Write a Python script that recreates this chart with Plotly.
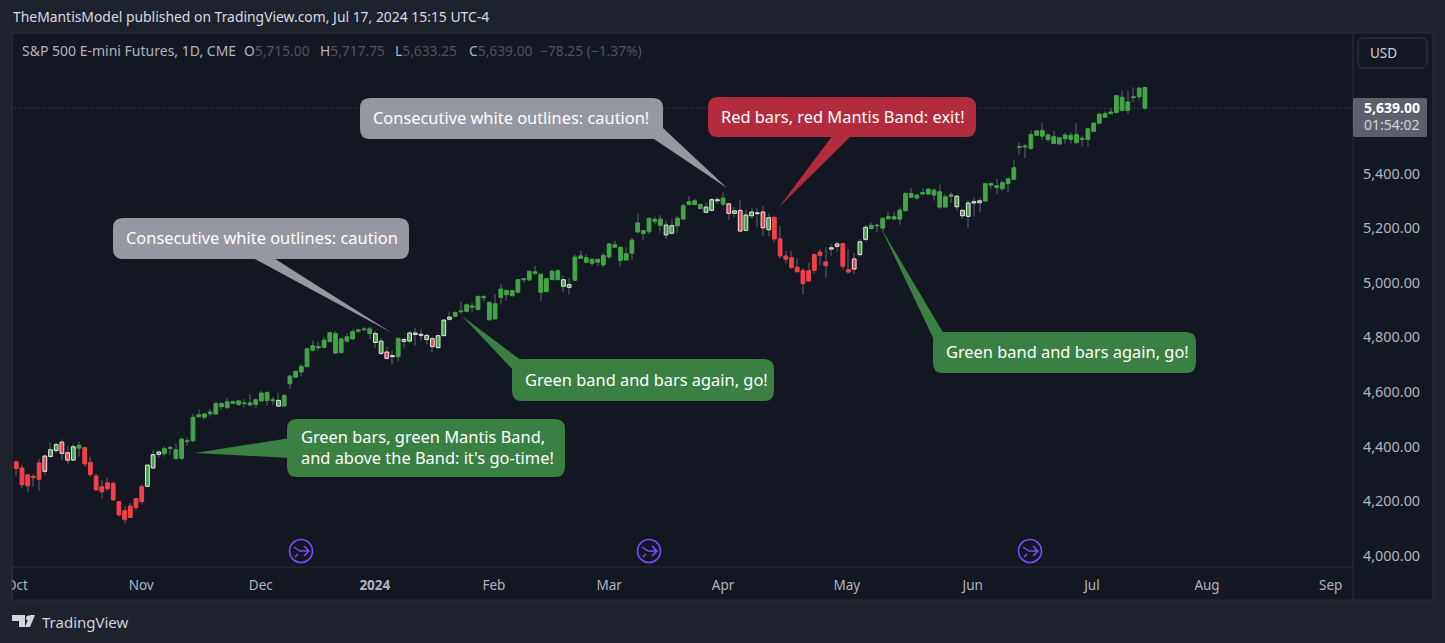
import plotly.graph_objects as go

# ---------------- data ----------------
highs = [
 4350,4332,4299,4298,4354,4370,4415,4415,4427,4403,
 4409,4418,4396,4363,4299,4277,4286,4271,4199,4183,
 4193,4211,4263,4333,4388,4385,4400,4403,4411,4433,
 4433,4521,4536,4524,4536,4565,4563,4578,4569,4568,
 4574,4592,4575,4604,4602,4582,4597,4592,4659,4678,
 4702,4761,4788,4785,4802,4817,4823,4800,4816,4831,
 4831,4839,4840,4824,4797,4766,4753,4800,4797,4824,
 4834,4830,4814,4800,4811,4865,4894,4895,4930,4924,
 4928,4952,4956,4932,4959,4995,4977,4973,5013,5015,
 5044,5062,5031,5016,5048,5048,5026,5017,5103,5117,
 5103,5087,5087,5109,5145,5154,5130,5130,5165,5254,
 5193,5239,5242,5249,5227,5233,5246,5291,5318,5307,
 5288,5294,5310,5315,5330,5293,5278,5304,5269,5274,
 5274,5281,5254,5246,5209,5117,5117,5090,5054,5073,
 5107,5123,5130,5142,5151,5145,5123,5109,5160,5211,
 5221,5215,5239,5260,5260,5276,5331,5346,5325,5346,
 5346,5346,5361,5325,5331,5321,5270,5303,5310,5313,
 5364,5368,5380,5374,5382,5449,5514,5508,5557,5557,
 5585,5547,5557,5535,5548,5551,5584,5538,5566,5587,
 5623,5628,5640,5685,5703,5703,5716,5718,5717.75]
body_tops = [
 4344,4321,4296,4291,4340,4365,4388,4407,4416,4377,
 4399,4404,4396,4342,4292,4253,4267,4265,4198,4165,
 4182,4209,4253,4332,4370,4380,4392,4397,4388,4427,
 4421,4507,4516,4519,4526,4557,4557,4564,4564,4567,
 4560,4560,4571,4596,4598,4571,4569,4587,4658,4675,
 4694,4758,4769,4766,4790,4817,4814,4794,4802,4821,
 4827,4831,4831,4814,4786,4746,4733,4796,4792,4816,
 4816,4811,4807,4795,4806,4863,4874,4891,4897,4919,
 4915,4950,4949,4927,4923,4977,4971,4971,5011,5015,
 5042,5040,5031,5015,5042,5044,5011,4993,5094,5098,
 5092,5086,5086,5100,5142,5139,5130,5106,5156,5219,
 5191,5236,5232,5233,5211,5209,5236,5282,5297,5300,
 5287,5277,5304,5304,5310,5289,5263,5265,5248,5259,
 5256,5259,5238,5239,5161,5098,5092,5057,5044,5044,
 5103,5112,5076,5128,5142,5144,5048,5087,5150,5203,
 5210,5211,5236,5242,5242,5266,5327,5327,5321,5330,
 5343,5339,5333,5315,5322,5317,5265,5292,5297,5300,
 5363,5363,5355,5366,5381,5421,5499,5501,5543,5556,
 5558,5541,5535,5531,5541,5540,5543,5529,5564,5585,
 5617,5620,5625,5685,5679,5662,5681,5712,5715]
body_bottoms = [
 4319,4260,4256,4286,4280,4309,4363,4385,4375,4350,
 4350,4394,4336,4297,4241,4234,4245,4204,4150,4132,
 4140,4176,4198,4254,4321,4371,4374,4393,4355,4357,
 4418,4421,4509,4507,4520,4519,4546,4542,4558,4554,
 4558,4552,4554,4567,4569,4568,4548,4548,4630,4654,
 4673,4692,4753,4761,4763,4784,4742,4744,4786,4794,
 4822,4828,4814,4781,4741,4723,4729,4729,4785,4786,
 4810,4807,4792,4766,4762,4806,4866,4877,4894,4895,
 4910,4902,4945,4864,4867,4946,4956,4952,4965,5011,
 5010,5034,4965,4967,5011,5011,4987,4983,5009,5089,
 5075,5071,5075,5065,5095,5130,5081,5083,5108,5186,
 5180,5187,5225,5210,5175,5181,5208,5233,5286,5286,
 5271,5258,5265,5300,5288,5254,5254,5189,5192,5245,
 5253,5201,5194,5160,5098,5086,5056,5040,4996,5006,
 5045,5100,5062,5123,5133,5060,5039,5050,5103,5159,
 5198,5208,5200,5234,5233,5233,5264,5313,5310,5325,
 5325,5321,5277,5277,5316,5278,5245,5243,5292,5293,
 5299,5357,5349,5344,5363,5379,5496,5497,5492,5540,
 5537,5524,5510,5508,5527,5525,5513,5525,5525,5554,
 5584,5606,5619,5623,5631,5631,5678,5681,5639]
lows = [
 4292,4248,4232,4253,4238,4294,4360,4375,4350,4336,
 4348,4363,4326,4289,4238,4209,4238,4202,4143,4117,
 4139,4165,4188,4253,4321,4360,4363,4370,4354,4350,
 4403,4418,4507,4498,4509,4515,4534,4538,4556,4548,
 4543,4548,4538,4562,4548,4552,4546,4546,4611,4653,
 4657,4692,4748,4751,4761,4784,4742,4742,4781,4791,
 4817,4822,4794,4761,4733,4719,4700,4712,4763,4781,
 4769,4788,4775,4744,4758,4805,4861,4873,4885,4891,
 4891,4897,4932,4862,4866,4919,4934,4951,4963,5000,
 5007,5027,4932,4966,5010,5010,4965,4956,5007,5088,
 5071,5062,5060,5057,5087,5127,5059,5081,5083,5182,
 5155,5178,5213,5183,5161,5178,5183,5232,5286,5285,
 5270,5255,5264,5288,5278,5230,5239,5187,5188,5233,
 5203,5172,5170,5149,5090,5071,5050,5038,4958,5004,
 5034,5066,5018,5099,5114,5049,5034,5032,5095,5151,
 5197,5184,5188,5230,5230,5212,5261,5310,5302,5320,
 5320,5300,5269,5276,5293,5264,5233,5200,5242,5258,
 5298,5343,5325,5335,5331,5376,5469,5457,5486,5538,
 5523,5516,5508,5507,5510,5510,5508,5498,5498,5553,
 5581,5603,5618,5623,5628,5618,5661,5667,5633.25]
# G green bar, R red bar, W white outline on green, X white outline on red
bar_states = ("RRRRRXWWXX" "WGRRRRRRRR" "RRRWWWGGGG" "GGGGGGGGGG" "GGGGGGWGGG"
              "GGGGGGGGGG" "GGGWWXWGWW" "WWWXWWWGGG" "GGGGGGGGGG" "GGGGGGWWGG"
              "GGGGGGGGGG" "GGGGWWGGGG" "GWWWGXWXWW" "WXWRRRRRRR" "RRRWWRRXWW"
              "GGGGGGGGGG" "GGGGGWWWWW" "GGGGGGGGGG" "GGGGGGGGGG" "GGGGGGGGG")
bar_index = list(range(len(highs)))

month_ticks = [0.1, 21.9, 42.9, 62.9, 83.8, 104, 124, 145.7, 167.8, 188.7, 208.9, 230.6]
month_labels = ["Oct", "Nov", "Dec", "<b>2024</b>", "Feb", "Mar", "Apr", "May", "Jun", "Jul", "Aug", "Sep"]
price_ticks = [4000, 4200, 4400, 4600, 4800, 5000, 5200, 5400]
last_price = 5639

# ---------------- layout constants ----------------
W, H = 1445, 643
L, R, T, B = 12, 1353, 33, 567
OUTER, PANE, FRAME = "#1e222d", "#131722", "#2a2e39"
FONT = "Noto Sans"
GREEN, RED, WICK, OUTLINE = "#43a547", "#f5404b", "#3a3d47", "#e9e9ea"
C_GRAY, C_RED, C_GREEN = "#9598a1", "#b22c3d", "#3a8042"
PURPLE = "#7a4dff"


def X(x):
    return (x - L) / (R - L)


def Y(y):
    return (B - y) / (B - T)


def box_path(x0, y0, x1, y1, r):
    return (f"M {X(x0+r)},{Y(y0)} L {X(x1-r)},{Y(y0)} Q {X(x1)},{Y(y0)} {X(x1)},{Y(y0+r)} "
            f"L {X(x1)},{Y(y1-r)} Q {X(x1)},{Y(y1)} {X(x1-r)},{Y(y1)} "
            f"L {X(x0+r)},{Y(y1)} Q {X(x0)},{Y(y1)} {X(x0)},{Y(y1-r)} "
            f"L {X(x0)},{Y(y0+r)} Q {X(x0)},{Y(y0)} {X(x0+r)},{Y(y0)} Z")


def poly_path(pts):
    return "M " + " L ".join(f"{X(a)},{Y(b)}" for a, b in pts) + " Z"


def pshape(path, fill=None, line=None, width=0):
    return dict(type="path", xref="paper", yref="paper", path=path,
                fillcolor=fill or "rgba(0,0,0,0)",
                line=dict(color=line or "rgba(0,0,0,0)", width=width), layer="above")


shapes = []
annotations = []


def label(x, y, text, size=13, color="#d1d4dc", anchor="left"):
    annotations.append(dict(xref="paper", yref="paper", x=X(x), y=Y(y), text=text, showarrow=False,
                            xanchor=anchor, yanchor="middle", align=anchor, borderpad=0,
                            font=dict(family=FONT, size=size, color=color)))


# panes behind the chart
shapes.append(dict(type="rect", xref="paper", yref="paper", x0=X(L), x1=X(1433), y0=Y(600), y1=Y(T),
                   fillcolor=PANE, line=dict(color=FRAME, width=1), layer="below"))
shapes.append(dict(type="line", xref="paper", yref="paper", x0=X(R), x1=X(R), y0=Y(600), y1=Y(T),
                   line=dict(color=FRAME, width=1), layer="below"))
shapes.append(dict(type="line", xref="paper", yref="paper", x0=X(L), x1=X(R), y0=Y(B), y1=Y(B),
                   line=dict(color=FRAME, width=1), layer="below"))
shapes.append(dict(type="line", xref="paper", yref="y", x0=0, x1=1, y0=last_price, y1=last_price,
                   line=dict(color="#4a4d57", width=1, dash="1px,2px"), layer="below"))
# hides the left part of the Oct tick label, which the pane clips
shapes.append(dict(type="rect", xref="paper", yref="paper", x0=X(0), x1=X(L - 0.5), y0=Y(600), y1=Y(B),
                   fillcolor=OUTER, line=dict(width=0), layer="above"))
shapes.append(dict(type="line", xref="paper", yref="paper", x0=X(L), x1=X(L), y0=Y(600), y1=Y(B),
                   line=dict(color=FRAME, width=1), layer="above"))

# callouts: box, tail, text
callouts = [
    (C_GRAY, (360, 98, 663, 139), [(648, 136), (663, 128), (727, 188), (654, 139)],
     (372, 118, "Consecutive white outlines: caution!")),
    (C_RED, (708, 97, 976, 137), [(833, 135), (852, 135), (779, 207)],
     (720, 116, "Red bars, red Mantis Band: exit!")),
    (C_GRAY, (113, 218, 409, 259), [(251, 257), (272, 257), (392, 333)],
     (125, 237, "Consecutive white outlines: caution")),
    (C_GREEN, (512, 359, 774, 401), [(522, 361), (514, 371), (462, 316)],
     (524, 380, "Green band and bars again, go!")),
    (C_GREEN, (933, 332, 1196, 373), [(944, 334), (935, 342), (881, 228)],
     (945, 351, "Green band and bars again, go!")),
    (C_GREEN, (287, 419, 565, 477), [(290, 438), (290, 458), (195, 453)],
     (300, 447, "Green bars, green Mantis Band,<br>and above the Band: it's go-time!")),
]
for color, (x0, y0, x1, y1), tail, (tx, ty, text) in callouts:
    shapes.append(pshape(poly_path(tail), fill=color))
    shapes.append(pshape(box_path(x0, y0, x1, y1, 10), fill=color))
    label(tx, ty, text, size=16.4, color="#ffffff")

# event markers
for cx, cy in [(301, 551), (649, 551), (1030, 551)]:
    r = 11.5
    shapes.append(dict(type="circle", xref="paper", yref="paper", x0=X(cx - r), x1=X(cx + r), y0=Y(cy + r), y1=Y(cy - r),
                       line=dict(color=PURPLE, width=1.6), fillcolor="rgba(0,0,0,0)", layer="above"))
    arrow = (f"M {X(cx-7)},{Y(cy-4)} L {X(cx-1)},{Y(cy)} L {X(cx+7)},{Y(cy)} "
             f"M {X(cx+3)},{Y(cy-5)} L {X(cx+8)},{Y(cy)} L {X(cx+3)},{Y(cy+5)} "
             f"M {X(cx-6)},{Y(cy+6)} L {X(cx-3)},{Y(cy+3)}")
    shapes.append(pshape(arrow, line=PURPLE, width=1.5))

# price scale widgets
shapes.append(pshape(box_path(1358, 38, 1427, 68, 6), line="#363a45", width=1))
label(1369, 53, "USD", size=13.5, color="#d1d4dc")
shapes.append(pshape(box_path(R, 98, 1427, 137, 2), fill="#5d606b"))
label(1421, 107, "<b>5,639.00</b>", size=14, color="#ffffff", anchor="right")
label(1421, 125, "01:54:02", size=14, color="#d1d4dc", anchor="right")

# header and legend
label(12, 17, "TheMantisModel published on TradingView.com, Jul 17, 2024 15:15 UTC-4", size=13.9, color="#d9dbe1")
label(21, 51, "S&P 500 E-mini Futures, 1D, CME", size=14, color="#b2b5be")
DIM = "#50535e"
for lx, key, val in [(243, "O", "5,715.00"), (319, "H", "5,717.75"), (394, "L", "5,633.25"), (468, "C", "5,639.00")]:
    label(lx, 51, f"<span style='color:#b2b5be'>{key}</span>{val}", size=13.8, color=DIM)
label(539, 51, "\u221278.25 (\u22121.37%)", size=13.8, color=DIM)

# TradingView footer
shapes.append(pshape(poly_path([(12, 615), (25, 615), (25, 627), (19, 627), (19, 621), (12, 621)]), fill="#d1d4dc"))
shapes.append(dict(type="circle", xref="paper", yref="paper", x0=X(26), x1=X(31), y0=Y(620.5), y1=Y(615.5),
                   fillcolor="#d1d4dc", line=dict(width=0), layer="above"))
shapes.append(pshape(poly_path([(35, 615), (30, 627), (25, 627), (30, 615)]), fill="#d1d4dc"))
label(41, 622, "TradingView", size=15, color="#d1d4dc")

# ---------------- traces ----------------
fig = go.Figure()
fig.add_bar(x=bar_index, base=lows, y=[h - l for h, l in zip(highs, lows)], width=0.2,
            marker=dict(color=WICK, line=dict(width=0)), showlegend=False, hoverinfo="skip")
for state, fill, edge in [("G", GREEN, GREEN), ("R", RED, RED), ("W", GREEN, OUTLINE), ("X", RED, OUTLINE)]:
    idx = [i for i in bar_index if bar_states[i] == state]
    fig.add_bar(x=idx, base=[body_bottoms[i] for i in idx],
                y=[body_tops[i] - body_bottoms[i] for i in idx], width=0.66,
                marker=dict(color=fill, line=dict(color=edge, width=1)), showlegend=False)

# pixel scale: 4000 sits at y=555.7, 200 points span 54.6 px
y_low = 4000 + (555.7 - B) / 0.273
y_high = 4000 + (555.7 - T) / 0.273

fig.update_layout(
    width=W, height=H, barmode="overlay", showlegend=False,
    margin=dict(l=L, r=W - R, t=T, b=H - B, autoexpand=False),
    paper_bgcolor=OUTER, plot_bgcolor=PANE,
    font=dict(family=FONT, color="#b2b5be", size=13),
    shapes=shapes, annotations=annotations,
    xaxis=dict(range=[(L - 16.3) / 5.7, (R - 16.3) / 5.7], showgrid=False, zeroline=False, showline=False,
               tickmode="array", tickvals=month_ticks, ticktext=month_labels, ticks="",
               tickfont=dict(family=FONT, size=13.5, color="#b2b5be"), ticklabelstandoff=8),
    yaxis=dict(range=[y_low, y_high], side="right", showgrid=False, zeroline=False, showline=False,
               tickmode="array", tickvals=price_ticks, tickformat=",.2f", ticks="",
               tickfont=dict(family=FONT, size=14.4, color="#b2b5be"), ticklabelstandoff=9),
)

fig.write_html("out.html", config={"displayModeBar": False},
               post_script="document.body.style.margin='0';document.body.style.overflow='hidden';")
